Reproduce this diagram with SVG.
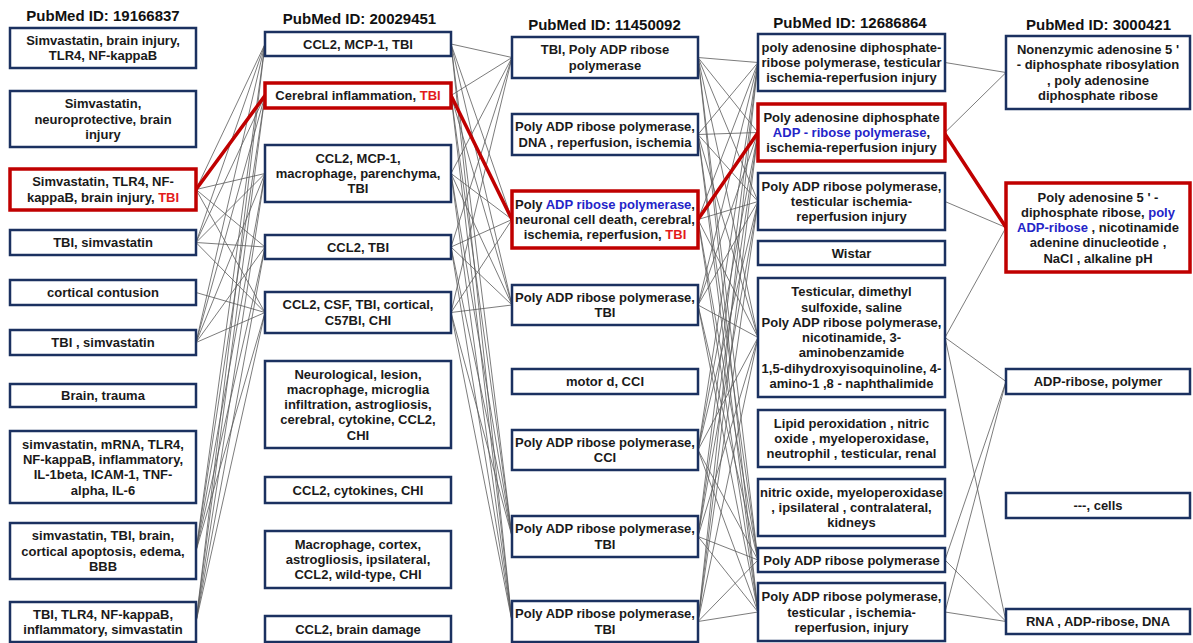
<svg xmlns="http://www.w3.org/2000/svg" width="1193" height="643" viewBox="0 0 1193 643">
<style>
.bg{fill:#ffffff}
.box{fill:#ffffff;stroke:#1b3160;stroke-width:2.5}
.hl{fill:#ffffff;stroke:#c00000;stroke-width:3.5}
.t{font-family:'Liberation Sans',Arial,sans-serif;font-weight:bold;font-size:13px;fill:#1a1a1a;text-anchor:middle}
.h{font-family:'Liberation Sans',Arial,sans-serif;font-weight:bold;font-size:15px;fill:#111111;text-anchor:middle}
.r{fill:#e31b1b}
.b{fill:#2424c8}
.c line{stroke:#5a5a5a;stroke-width:0.8}
.rc line{stroke:#c00000;stroke-width:3.5;stroke-linecap:round}
</style>
<rect class="bg" x="0" y="0" width="1193" height="643"/>

<g id="connectors">
<g class="c">
<!-- gap 1 -->
<line x1="196" y1="189.5" x2="265" y2="44"/>
<line x1="196" y1="189.5" x2="265" y2="173.5"/>
<line x1="196" y1="189.5" x2="265" y2="247"/>
<line x1="196" y1="189.5" x2="265" y2="312.5"/>
<line x1="196" y1="242.5" x2="265" y2="44"/>
<line x1="196" y1="242.5" x2="265" y2="95.5"/>
<line x1="196" y1="242.5" x2="265" y2="173.5"/>
<line x1="196" y1="242.5" x2="265" y2="247"/>
<line x1="196" y1="242.5" x2="265" y2="312.5"/>
<line x1="196" y1="292.5" x2="265" y2="312.5"/>
<line x1="196" y1="342.5" x2="265" y2="44"/>
<line x1="196" y1="342.5" x2="265" y2="95.5"/>
<line x1="196" y1="342.5" x2="265" y2="173.5"/>
<line x1="196" y1="342.5" x2="265" y2="247"/>
<line x1="196" y1="342.5" x2="265" y2="312.5"/>
<line x1="196" y1="551" x2="265" y2="44"/>
<line x1="196" y1="551" x2="265" y2="95.5"/>
<line x1="196" y1="551" x2="265" y2="173.5"/>
<line x1="196" y1="551" x2="265" y2="247"/>
<line x1="196" y1="551" x2="265" y2="312.5"/>
<line x1="196" y1="622" x2="265" y2="44"/>
<line x1="196" y1="622" x2="265" y2="95.5"/>
<line x1="196" y1="622" x2="265" y2="173.5"/>
<line x1="196" y1="622" x2="265" y2="247"/>
<line x1="196" y1="622" x2="265" y2="312.5"/>
<!-- gap 2 -->
<line x1="451" y1="44" x2="512" y2="57.5"/>
<line x1="451" y1="44" x2="512" y2="219.5"/>
<line x1="451" y1="44" x2="512" y2="305"/>
<line x1="451" y1="44" x2="512" y2="536.5"/>
<line x1="451" y1="44" x2="512" y2="621.5"/>
<line x1="451" y1="95.5" x2="512" y2="57.5"/>
<line x1="451" y1="95.5" x2="512" y2="305"/>
<line x1="451" y1="95.5" x2="512" y2="536.5"/>
<line x1="451" y1="95.5" x2="512" y2="621.5"/>
<line x1="451" y1="173.5" x2="512" y2="57.5"/>
<line x1="451" y1="173.5" x2="512" y2="219.5"/>
<line x1="451" y1="173.5" x2="512" y2="305"/>
<line x1="451" y1="173.5" x2="512" y2="536.5"/>
<line x1="451" y1="173.5" x2="512" y2="621.5"/>
<line x1="451" y1="247" x2="512" y2="57.5"/>
<line x1="451" y1="247" x2="512" y2="219.5"/>
<line x1="451" y1="247" x2="512" y2="305"/>
<line x1="451" y1="247" x2="512" y2="536.5"/>
<line x1="451" y1="247" x2="512" y2="621.5"/>
<line x1="451" y1="312.5" x2="512" y2="57.5"/>
<line x1="451" y1="312.5" x2="512" y2="219.5"/>
<line x1="451" y1="312.5" x2="512" y2="305"/>
<line x1="451" y1="312.5" x2="512" y2="536.5"/>
<line x1="451" y1="312.5" x2="512" y2="621.5"/>
<!-- gap 3 -->
<line x1="698" y1="57.5" x2="758" y2="62.5"/>
<line x1="698" y1="57.5" x2="758" y2="132.5"/>
<line x1="698" y1="57.5" x2="758" y2="201.5"/>
<line x1="698" y1="57.5" x2="758" y2="337.5"/>
<line x1="698" y1="57.5" x2="758" y2="560"/>
<line x1="698" y1="57.5" x2="758" y2="612"/>
<line x1="698" y1="134.5" x2="758" y2="62.5"/>
<line x1="698" y1="134.5" x2="758" y2="132.5"/>
<line x1="698" y1="134.5" x2="758" y2="201.5"/>
<line x1="698" y1="134.5" x2="758" y2="337.5"/>
<line x1="698" y1="134.5" x2="758" y2="560"/>
<line x1="698" y1="134.5" x2="758" y2="612"/>
<line x1="698" y1="219.5" x2="758" y2="62.5"/>
<line x1="698" y1="219.5" x2="758" y2="201.5"/>
<line x1="698" y1="219.5" x2="758" y2="337.5"/>
<line x1="698" y1="219.5" x2="758" y2="560"/>
<line x1="698" y1="219.5" x2="758" y2="612"/>
<line x1="698" y1="305" x2="758" y2="62.5"/>
<line x1="698" y1="305" x2="758" y2="132.5"/>
<line x1="698" y1="305" x2="758" y2="201.5"/>
<line x1="698" y1="305" x2="758" y2="337.5"/>
<line x1="698" y1="305" x2="758" y2="560"/>
<line x1="698" y1="305" x2="758" y2="612"/>
<line x1="698" y1="450" x2="758" y2="62.5"/>
<line x1="698" y1="450" x2="758" y2="132.5"/>
<line x1="698" y1="450" x2="758" y2="201.5"/>
<line x1="698" y1="450" x2="758" y2="337.5"/>
<line x1="698" y1="450" x2="758" y2="560"/>
<line x1="698" y1="450" x2="758" y2="612"/>
<line x1="698" y1="536.5" x2="758" y2="62.5"/>
<line x1="698" y1="536.5" x2="758" y2="132.5"/>
<line x1="698" y1="536.5" x2="758" y2="201.5"/>
<line x1="698" y1="536.5" x2="758" y2="337.5"/>
<line x1="698" y1="536.5" x2="758" y2="560"/>
<line x1="698" y1="536.5" x2="758" y2="612"/>
<line x1="698" y1="621.5" x2="758" y2="62.5"/>
<line x1="698" y1="621.5" x2="758" y2="132.5"/>
<line x1="698" y1="621.5" x2="758" y2="201.5"/>
<line x1="698" y1="621.5" x2="758" y2="337.5"/>
<line x1="698" y1="621.5" x2="758" y2="560"/>
<line x1="698" y1="621.5" x2="758" y2="612"/>
<!-- gap 4 -->
<line x1="945" y1="62.5" x2="1006" y2="72.5"/>
<line x1="945" y1="132.5" x2="1006" y2="72.5"/>
<line x1="945" y1="201.5" x2="1006" y2="227.5"/>
<line x1="945" y1="337.5" x2="1006" y2="227.5"/>
<line x1="945" y1="337.5" x2="1006" y2="381.5"/>
<line x1="945" y1="337.5" x2="1006" y2="621.5"/>
<line x1="945" y1="560" x2="1006" y2="381.5"/>
<line x1="945" y1="612" x2="1006" y2="381.5"/>
<line x1="945" y1="560" x2="1006" y2="621.5"/>
<line x1="945" y1="612" x2="1006" y2="621.5"/>
</g>
<g class="rc">
<line x1="196" y1="189.5" x2="265" y2="95.5"/>
<line x1="451" y1="95.5" x2="512" y2="219.5"/>
<line x1="698" y1="219.5" x2="758" y2="132.5"/>
<line x1="945" y1="134" x2="1006" y2="227.5"/>
</g>
</g>

<g id="headers">
<text class="h" x="103" y="20.5">PubMed ID: 19166837</text>
<text class="h" x="359.5" y="23.5">PubMed ID: 20029451</text>
<text class="h" x="604.5" y="30">PubMed ID: 11450092</text>
<text class="h" x="850" y="28">PubMed ID: 12686864</text>
<text class="h" x="1098.5" y="30">PubMed ID: 3000421</text>
</g>

<!-- Column 1 -->
<g id="c1n1"><rect class="box" x="10" y="28" width="186" height="40"/><text class="t" x="103" y="45">Simvastatin, brain injury,</text><text class="t" x="103" y="60.3">TLR4, NF-kappaB</text></g>
<g id="c1n2"><rect class="box" x="10" y="91" width="186" height="56"/><text class="t" x="103" y="108.3">Simvastatin,</text><text class="t" x="103" y="123.6">neuroprotective, brain</text><text class="t" x="103" y="138.9">injury</text></g>
<g id="c1n3"><rect class="hl" x="10" y="169" width="186" height="41"/><text class="t" x="103" y="186.45">Simvastatin, TLR4, NF-</text><text class="t" x="103" y="201.75">kappaB, brain injury, <tspan class="r">TBI</tspan></text></g>
<g id="c1n4"><rect class="box" x="10" y="230" width="186" height="25"/><text class="t" x="103" y="247.1">TBI, simvastatin</text></g>
<g id="c1n5"><rect class="box" x="10" y="280" width="186" height="25"/><text class="t" x="103" y="297.1">cortical contusion</text></g>
<g id="c1n6"><rect class="box" x="10" y="330" width="186" height="25"/><text class="t" x="103" y="347.1">TBI , simvastatin</text></g>
<g id="c1n7"><rect class="box" x="10" y="384" width="186" height="23"/><text class="t" x="103" y="400.2">Brain, trauma</text></g>
<g id="c1n8"><rect class="box" x="10" y="431" width="186" height="72"/><text class="t" x="103" y="448.65">simvastatin, mRNA, TLR4,</text><text class="t" x="103" y="463.95">NF-kappaB, inflammatory,</text><text class="t" x="103" y="479.25">IL-1beta, ICAM-1, TNF-</text><text class="t" x="103" y="494.55">alpha, IL-6</text></g>
<g id="c1n9"><rect class="box" x="10" y="523" width="186" height="56"/><text class="t" x="103" y="540.3">simvastatin, TBI, brain,</text><text class="t" x="103" y="555.6">cortical apoptosis, edema,</text><text class="t" x="103" y="570.9">BBB</text></g>
<g id="c1n10"><rect class="box" x="10" y="602" width="186" height="40"/><text class="t" x="103" y="618.95">TBI, TLR4, NF-kappaB,</text><text class="t" x="103" y="634.25">inflammatory, simvastatin</text></g>

<!-- Column 2 -->
<g id="c2n1"><rect class="box" x="265" y="32" width="186" height="24"/><text class="t" x="358" y="48.6">CCL2, MCP-1, TBI</text></g>
<g id="c2n2"><rect class="hl" x="265" y="83" width="186" height="25"/><text class="t" x="358" y="100.1">Cerebral inflammation, <tspan class="r">TBI</tspan></text></g>
<g id="c2n3"><rect class="box" x="265" y="145" width="186" height="57"/><text class="t" x="358" y="162.8">CCL2, MCP-1,</text><text class="t" x="358" y="178.1">macrophage, parenchyma,</text><text class="t" x="358" y="193.4">TBI</text></g>
<g id="c2n4"><rect class="box" x="265" y="235" width="186" height="24"/><text class="t" x="358" y="251.6">CCL2, TBI</text></g>
<g id="c2n5"><rect class="box" x="265" y="292" width="186" height="41"/><text class="t" x="358" y="309.45">CCL2, CSF, TBI, cortical,</text><text class="t" x="358" y="324.75">C57Bl, CHI</text></g>
<g id="c2n6"><rect class="box" x="265" y="361" width="186" height="87"/><text class="t" x="358" y="378.5">Neurological, lesion,</text><text class="t" x="358" y="393.8">macrophage, microglia</text><text class="t" x="358" y="409.1">infiltration, astrogliosis,</text><text class="t" x="358" y="424.4">cerebral, cytokine, CCL2,</text><text class="t" x="358" y="439.7">CHI</text></g>
<g id="c2n7"><rect class="box" x="265" y="477" width="186" height="26"/><text class="t" x="358" y="494.6">CCL2, cytokines, CHI</text></g>
<g id="c2n8"><rect class="box" x="265" y="531" width="186" height="57"/><text class="t" x="358" y="548.8">Macrophage, cortex,</text><text class="t" x="358" y="564.1">astrogliosis, ipsilateral,</text><text class="t" x="358" y="579.4">CCL2, wild-type, CHI</text></g>
<g id="c2n9"><rect class="box" x="265" y="616" width="186" height="26"/><text class="t" x="358" y="633.6">CCL2, brain damage</text></g>

<!-- Column 3 -->
<g id="c3n1"><rect class="box" x="512" y="37" width="186" height="41"/><text class="t" x="605" y="54.45">TBI, Poly ADP ribose</text><text class="t" x="605" y="69.75">polymerase</text></g>
<g id="c3n2"><rect class="box" x="512" y="114" width="186" height="41"/><text class="t" x="605" y="131.45">Poly ADP ribose polymerase,</text><text class="t" x="605" y="146.75">DNA , reperfusion, ischemia</text></g>
<g id="c3n3"><rect class="hl" x="512" y="191" width="186" height="57"/><text class="t" x="605" y="208.8">Poly <tspan class="b">ADP ribose polymerase</tspan>,</text><text class="t" x="605" y="224.1">neuronal cell death, cerebral,</text><text class="t" x="605" y="239.4">ischemia, reperfusion, <tspan class="r">TBI</tspan></text></g>
<g id="c3n4"><rect class="box" x="512" y="285" width="186" height="40"/><text class="t" x="605" y="301.95">Poly ADP ribose polymerase,</text><text class="t" x="605" y="317.25">TBI</text></g>
<g id="c3n5"><rect class="box" x="512" y="369" width="186" height="25"/><text class="t" x="605" y="386.1">motor d, CCI</text></g>
<g id="c3n6"><rect class="box" x="512" y="430" width="186" height="40"/><text class="t" x="605" y="446.95">Poly ADP ribose polymerase,</text><text class="t" x="605" y="462.25">CCI</text></g>
<g id="c3n7"><rect class="box" x="512" y="516" width="186" height="41"/><text class="t" x="605" y="533.45">Poly ADP ribose polymerase,</text><text class="t" x="605" y="548.75">TBI</text></g>
<g id="c3n8"><rect class="box" x="512" y="601" width="186" height="41"/><text class="t" x="605" y="618.45">Poly ADP ribose polymerase,</text><text class="t" x="605" y="633.75">TBI</text></g>

<!-- Column 4 -->
<g id="c4n1"><rect class="box" x="758" y="34" width="187" height="57"/><text class="t" x="851.5" y="51.8">poly adenosine diphosphate-</text><text class="t" x="851.5" y="67.1">ribose polymerase, testicular</text><text class="t" x="851.5" y="82.4">ischemia-reperfusion injury</text></g>
<g id="c4n2"><rect class="hl" x="758" y="104" width="187" height="57"/><text class="t" x="851.5" y="121.8">Poly adenosine diphosphate</text><text class="t" x="851.5" y="137.1"><tspan class="b">ADP - ribose polymerase</tspan>,</text><text class="t" x="851.5" y="152.4">ischemia-reperfusion injury</text></g>
<g id="c4n3"><rect class="box" x="758" y="173" width="187" height="57"/><text class="t" x="851.5" y="190.8">Poly ADP ribose polymerase,</text><text class="t" x="851.5" y="206.1">testicular ischemia-</text><text class="t" x="851.5" y="221.4">reperfusion injury</text></g>
<g id="c4n4"><rect class="box" x="758" y="241" width="187" height="24"/><text class="t" x="851.5" y="257.6">Wistar</text></g>
<g id="c4n5"><rect class="box" x="758" y="278" width="187" height="119"/><text class="t" x="851.5" y="296.2">Testicular, dimethyl</text><text class="t" x="851.5" y="311.5">sulfoxide, saline</text><text class="t" x="851.5" y="326.8">Poly ADP ribose polymerase,</text><text class="t" x="851.5" y="342.1">nicotinamide, 3-</text><text class="t" x="851.5" y="357.4">aminobenzamide</text><text class="t" x="851.5" y="372.7">1,5-dihydroxyisoquinoline, 4-</text><text class="t" x="851.5" y="388">amino-1 ,8 - naphthalimide</text></g>
<g id="c4n6"><rect class="box" x="758" y="410" width="187" height="57"/><text class="t" x="851.5" y="427.8">Lipid peroxidation , nitric</text><text class="t" x="851.5" y="443.1">oxide , myeloperoxidase,</text><text class="t" x="851.5" y="458.4">neutrophil , testicular, renal</text></g>
<g id="c4n7"><rect class="box" x="758" y="479" width="187" height="57"/><text class="t" x="851.5" y="496.8">nitric oxide, myeloperoxidase</text><text class="t" x="851.5" y="512.1">, ipsilateral , contralateral,</text><text class="t" x="851.5" y="527.4">kidneys</text></g>
<g id="c4n8"><rect class="box" x="758" y="548" width="187" height="24"/><text class="t" x="851.5" y="564.6">Poly ADP ribose polymerase</text></g>
<g id="c4n9"><rect class="box" x="758" y="583" width="187" height="58"/><text class="t" x="851.5" y="601.3">Poly ADP ribose polymerase,</text><text class="t" x="851.5" y="616.6">testicular , ischemia-</text><text class="t" x="851.5" y="631.9">reperfusion, injury</text></g>

<!-- Column 5 -->
<g id="c5n1"><rect class="box" x="1006" y="36" width="184" height="73"/><text class="t" x="1098" y="54.15">Nonenzymic adenosine 5 '</text><text class="t" x="1098" y="69.45">- diphosphate ribosylation</text><text class="t" x="1098" y="84.75">, poly adenosine</text><text class="t" x="1098" y="100.05">diphosphate ribose</text></g>
<g id="c5n2"><rect class="hl" x="1006" y="183" width="184" height="89"/><text class="t" x="1098" y="201.5">Poly adenosine 5 ' -</text><text class="t" x="1098" y="216.8">diphosphate ribose, <tspan class="b">poly</tspan></text><text class="t" x="1098" y="232.1"><tspan class="b">ADP-ribose</tspan> , nicotinamide</text><text class="t" x="1098" y="247.4">adenine dinucleotide ,</text><text class="t" x="1098" y="262.7">NaCl , alkaline pH</text></g>
<g id="c5n3"><rect class="box" x="1006" y="369" width="184" height="25"/><text class="t" x="1098" y="386.1">ADP-ribose, polymer</text></g>
<g id="c5n4"><rect class="box" x="1006" y="493" width="184" height="25"/><text class="t" x="1098" y="510.1">---, cells</text></g>
<g id="c5n5"><rect class="box" x="1006" y="609" width="184" height="25"/><text class="t" x="1098" y="626.1">RNA , ADP-ribose, DNA</text></g>
</svg>
